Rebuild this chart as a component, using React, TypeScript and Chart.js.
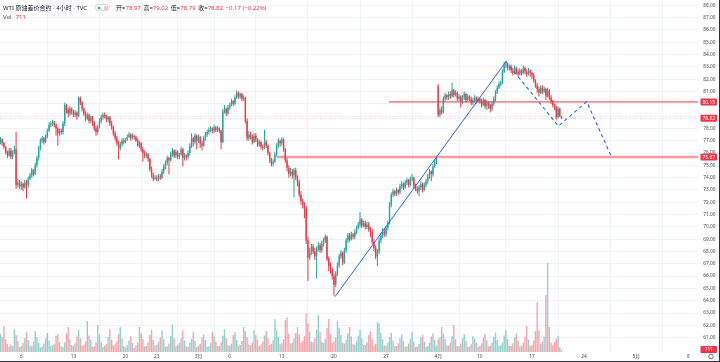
import React, { useEffect, useRef } from "react";
import { Chart, registerables } from "chart.js";
Chart.register(...registerables);

// ---- data: 4h bars, 6 per trading day, 2 Feb 2023 .. 19 Apr 2023 ----
const opens = [
  76.9, 77.1, 76.8, 76.5, 76.1, 75.8,
  76.2, 75.7, 76.0, 76.3, 73.4, 73.6,
  73.3, 73.5, 73.2, 73.6, 73.4, 73.9,
  74.2, 74.6, 74.3, 75.0, 75.6, 76.4,
  77.0, 77.2, 76.9, 77.3, 77.8, 78.3,
  78.4, 78.5, 78.3, 78.0, 77.6, 77.8,
  77.7, 78.4, 79.9, 79.5, 79.2, 79.6,
  79.4, 79.1, 79.3, 79.0, 80.5, 80.1,
  79.6, 79.2, 78.8, 79.1, 78.6, 78.9,
  78.5, 78.0, 77.7, 78.1, 78.6, 78.9,
  79.1, 79.0, 78.7, 78.9, 78.4, 78.1,
  77.6, 77.2, 76.8, 76.4, 76.7, 77.0,
  76.9, 77.1, 77.3, 77.5, 77.2, 77.4,
  77.3, 77.0, 76.6, 76.8, 76.3, 76.0,
  75.8, 75.9, 75.5, 74.7, 74.2, 73.9,
  74.0, 73.9, 74.1, 74.0, 74.5, 74.9,
  75.2, 75.6, 75.4, 75.9, 76.2, 75.8,
  76.1, 75.7, 75.9, 76.3, 75.6, 75.8,
  75.7, 76.0, 76.6, 77.2, 76.9, 77.4,
  77.0, 77.3, 76.8, 76.6, 77.2, 77.5,
  77.7, 77.9, 78.0, 77.8, 78.1, 77.9,
  78.0, 77.8, 76.9, 79.4, 79.6, 79.2,
  79.7, 79.9, 80.2, 80.0, 80.5, 80.9,
  80.6, 80.8, 80.4, 80.5, 78.6, 77.2,
  77.5, 77.3, 76.9, 77.4, 77.1, 76.7,
  76.9, 76.5, 76.4, 76.9, 76.6, 76.0,
  75.5, 75.1, 75.3, 75.9, 76.6, 77.0,
  76.8, 77.1, 76.3, 75.4, 74.8, 74.3,
  74.5, 74.2, 74.6, 74.0, 73.6, 72.6,
  72.1, 71.8, 71.5, 68.9, 67.5, 67.9,
  68.4, 68.0, 67.6, 68.2, 68.5, 68.1,
  68.6, 68.9, 69.2, 67.4, 66.8, 66.5,
  66.0, 65.3, 66.2, 66.9, 67.6, 67.9,
  67.1, 68.1, 68.9, 69.3, 69.0, 69.4,
  69.2, 69.6, 69.9, 70.2, 70.6, 70.1,
  70.3, 70.0, 70.2, 69.8, 69.6, 68.8,
  68.3, 67.6, 68.0, 68.9, 69.3, 69.6,
  69.4, 69.9, 70.3, 71.8, 72.6, 72.9,
  72.7, 73.0, 72.8, 73.3, 73.5, 73.2,
  73.6, 73.8, 73.4, 73.9, 74.0, 73.3,
  73.1, 72.9, 73.2, 73.5, 73.0, 73.4,
  73.7, 74.1, 74.5, 74.3, 74.9, 75.3,
  81.4, 79.1, 79.5, 79.3, 80.4, 80.7,
  80.5, 80.8, 80.6, 81.1, 80.7, 80.9,
  80.4, 80.6, 80.2, 80.5, 80.8, 80.3,
  80.6, 80.4, 80.1, 80.3, 80.5, 80.2,
  80.4, 80.2, 79.9, 80.3, 79.8, 80.1,
  79.9, 79.6, 80.0, 80.4, 80.9, 81.3,
  81.6, 81.7, 82.6, 83.1, 83.2, 82.9,
  83.0, 82.7, 82.5, 82.9, 82.6, 82.4,
  82.7, 82.5, 82.9, 82.6, 82.4, 82.7,
  82.5, 82.3, 81.9, 81.5, 81.2, 80.9,
  81.3, 81.0, 81.2, 80.6, 81.1, 80.5,
  80.2, 79.9, 79.7, 78.9, 79.6, 78.97,
];

const highs = [
  77.3, 77.2, 76.9, 76.6, 76.2, 76.4,
  76.4, 76.2, 76.6, 77.7, 73.9, 73.8,
  73.7, 73.6, 73.8, 73.8, 74.1, 74.4,
  74.8, 74.7, 75.2, 75.8, 76.6, 77.2,
  77.4, 77.3, 77.5, 78.0, 78.5, 78.6,
  78.7, 78.6, 78.4, 78.1, 78.0, 78.0,
  78.6, 80.1, 80.0, 79.7, 79.8, 79.7,
  79.5, 79.5, 79.4, 80.6, 80.6, 80.2,
  79.7, 79.4, 79.3, 79.2, 79.0, 79.0,
  78.6, 78.2, 78.3, 78.8, 79.1, 79.3,
  79.3, 79.1, 79.0, 79.0, 78.6, 78.2,
  77.8, 77.4, 77.0, 76.9, 77.2, 77.2,
  77.2, 77.5, 77.7, 77.6, 77.6, 77.5,
  77.4, 77.2, 77.0, 76.9, 76.5, 76.2,
  76.1, 76.0, 75.6, 74.9, 74.4, 74.2,
  74.2, 74.3, 74.3, 74.7, 75.1, 75.4,
  75.8, 75.7, 76.1, 76.4, 76.3, 76.3,
  76.2, 76.0, 76.5, 76.4, 76.0, 75.9,
  76.2, 76.8, 77.6, 77.3, 77.6, 77.5,
  77.5, 77.4, 77.0, 77.4, 77.7, 77.9,
  78.1, 78.2, 78.1, 78.3, 78.2, 78.2,
  78.1, 77.9, 79.6, 79.9, 79.7, 79.9,
  80.1, 80.4, 80.3, 80.7, 81.1, 81.0,
  80.9, 80.9, 80.7, 80.6, 78.8, 77.8,
  77.7, 77.5, 77.6, 77.6, 77.2, 77.1,
  77.0, 76.7, 77.9, 77.1, 76.7, 76.1,
  75.6, 75.5, 76.1, 76.8, 77.2, 77.1,
  77.3, 77.2, 76.4, 75.6, 75.0, 74.8,
  74.7, 74.8, 74.8, 74.2, 73.8, 72.9,
  72.3, 72.0, 71.7, 69.2, 68.3, 68.6,
  68.6, 68.3, 68.4, 68.8, 68.7, 68.9,
  69.1, 69.4, 69.3, 67.6, 67.1, 66.7,
  66.2, 66.4, 67.1, 67.8, 68.1, 68.0,
  68.3, 69.1, 69.5, 69.5, 69.6, 69.5,
  69.8, 70.1, 70.4, 71.2, 70.7, 70.5,
  70.5, 70.4, 70.4, 70.0, 69.8, 69.0,
  68.5, 68.2, 69.1, 69.5, 69.9, 69.8,
  70.1, 70.5, 72.0, 72.8, 73.1, 73.0,
  73.2, 73.1, 73.5, 73.7, 73.6, 73.8,
  74.0, 73.9, 74.1, 74.3, 74.1, 73.5,
  73.3, 73.4, 73.7, 73.6, 73.6, 73.9,
  74.3, 74.7, 74.6, 75.1, 75.5, 75.8,
  81.6, 79.7, 79.8, 80.6, 80.9, 80.8,
  81.0, 81.0, 81.7, 81.2, 81.1, 81.0,
  80.8, 80.7, 80.7, 81.0, 80.9, 80.8,
  80.7, 80.6, 80.5, 80.7, 80.6, 80.6,
  80.5, 80.4, 80.5, 80.4, 80.3, 80.2,
  80.0, 80.2, 80.6, 81.1, 81.5, 81.8,
  81.9, 82.8, 83.4, 83.5, 83.3, 83.2,
  83.2, 82.9, 83.1, 83.0, 82.8, 82.9,
  82.8, 83.1, 83.0, 82.8, 82.9, 82.8,
  82.6, 82.5, 82.0, 81.7, 81.4, 81.5,
  81.5, 81.4, 81.3, 81.3, 81.2, 80.7,
  80.3, 80.0, 79.8, 79.8, 79.7, 79.02,
];

const lows = [
  76.7, 76.6, 76.3, 75.9, 75.6, 75.7,
  75.5, 75.5, 75.9, 73.1, 73.2, 73.1,
  73.0, 72.9, 73.1, 72.3, 73.2, 73.8,
  74.0, 74.1, 74.2, 74.8, 75.4, 76.2,
  76.8, 76.7, 76.8, 77.2, 77.7, 78.1,
  78.2, 78.1, 77.4, 76.6, 77.4, 77.5,
  77.5, 78.2, 79.2, 78.9, 79.0, 79.1,
  78.9, 78.9, 78.7, 78.9, 79.9, 79.4,
  79.0, 78.6, 78.7, 78.4, 78.4, 78.2,
  77.8, 77.4, 77.5, 78.0, 78.4, 78.7,
  78.8, 78.5, 78.5, 78.2, 77.9, 77.4,
  77.0, 76.6, 75.5, 76.2, 76.5, 76.7,
  76.8, 77.0, 77.2, 77.0, 77.1, 77.1,
  76.9, 76.5, 76.4, 76.1, 75.3, 75.6,
  75.6, 75.3, 74.5, 74.0, 73.7, 73.8,
  73.7, 73.7, 73.8, 73.9, 74.3, 74.7,
  75.0, 74.3, 75.3, 75.7, 75.6, 75.6,
  75.5, 75.5, 75.8, 74.9, 75.4, 75.4,
  75.5, 75.8, 76.4, 76.5, 76.7, 76.3,
  76.8, 76.4, 76.2, 76.5, 77.0, 77.3,
  77.5, 77.7, 77.6, 77.6, 77.7, 77.7,
  77.6, 76.3, 76.8, 79.2, 79.0, 79.1,
  79.5, 79.8, 79.8, 79.9, 80.4, 80.4,
  80.4, 80.2, 80.2, 78.4, 77.0, 77.0,
  77.1, 76.7, 76.8, 76.9, 76.5, 76.5,
  76.3, 76.2, 76.3, 76.4, 75.8, 75.2,
  74.9, 74.9, 75.2, 75.7, 76.4, 76.5,
  76.6, 76.1, 75.2, 74.5, 74.0, 74.1,
  73.9, 72.4, 73.8, 73.3, 72.4, 71.8,
  71.5, 70.7, 68.6, 65.6, 67.3, 67.7,
  67.8, 67.3, 65.8, 68.0, 67.9, 67.9,
  68.4, 68.7, 67.2, 66.4, 66.2, 65.7,
  64.4, 65.1, 66.0, 66.7, 67.4, 66.9,
  67.0, 67.9, 68.7, 68.8, 68.9, 69.0,
  69.0, 69.4, 69.8, 70.0, 69.9, 70.0,
  69.8, 69.8, 69.6, 69.2, 68.6, 68.0,
  67.4, 66.8, 67.8, 68.7, 69.1, 69.2,
  69.2, 69.7, 70.2, 71.6, 72.4, 72.5,
  72.5, 72.6, 72.7, 73.1, 73.0, 73.1,
  73.4, 73.2, 73.3, 73.7, 73.1, 72.9,
  72.7, 72.5, 73.0, 72.8, 72.9, 73.2,
  73.5, 73.9, 73.7, 74.1, 74.8, 75.1,
  78.9, 78.9, 79.1, 79.2, 80.2, 80.3,
  80.3, 80.4, 80.5, 80.5, 80.6, 80.2,
  80.2, 79.7, 80.0, 80.3, 80.1, 80.2,
  80.2, 79.9, 79.9, 80.1, 80.0, 80.1,
  80.0, 79.7, 79.8, 79.6, 79.5, 79.6,
  79.3, 79.4, 79.8, 80.2, 80.8, 81.2,
  81.4, 81.6, 82.5, 82.9, 82.7, 82.7,
  82.5, 82.3, 82.4, 82.4, 82.2, 82.3,
  82.3, 82.4, 82.4, 82.2, 82.3, 82.2,
  82.0, 81.7, 81.3, 80.9, 80.6, 80.8,
  80.8, 80.9, 80.3, 80.5, 80.3, 80.0,
  79.7, 79.5, 78.7, 78.8, 78.9, 78.79,
];

const closes = [
  77.1, 76.8, 76.5, 76.1, 75.8, 76.2,
  75.7, 76.0, 76.3, 73.4, 73.6, 73.3,
  73.5, 73.2, 73.6, 73.4, 73.9, 74.2,
  74.6, 74.3, 75.0, 75.6, 76.4, 77.0,
  77.2, 76.9, 77.3, 77.8, 78.3, 78.4,
  78.5, 78.3, 78.0, 77.6, 77.8, 77.7,
  78.4, 79.9, 79.5, 79.2, 79.6, 79.4,
  79.1, 79.3, 79.0, 80.5, 80.1, 79.6,
  79.2, 78.8, 79.1, 78.6, 78.9, 78.5,
  78.0, 77.7, 78.1, 78.6, 78.9, 79.1,
  79.0, 78.7, 78.9, 78.4, 78.1, 77.6,
  77.2, 76.8, 76.4, 76.7, 77.0, 76.9,
  77.1, 77.3, 77.5, 77.2, 77.4, 77.3,
  77.0, 76.6, 76.8, 76.3, 76.0, 75.8,
  75.9, 75.5, 74.7, 74.2, 73.9, 74.0,
  73.9, 74.1, 74.0, 74.5, 74.9, 75.2,
  75.6, 75.4, 75.9, 76.2, 75.8, 76.1,
  75.7, 75.9, 76.3, 75.6, 75.8, 75.7,
  76.0, 76.6, 77.2, 76.9, 77.4, 77.0,
  77.3, 76.8, 76.6, 77.2, 77.5, 77.7,
  77.9, 78.0, 77.8, 78.1, 77.9, 78.0,
  77.8, 76.9, 79.4, 79.6, 79.2, 79.7,
  79.9, 80.2, 80.0, 80.5, 80.9, 80.6,
  80.8, 80.4, 80.5, 78.6, 77.2, 77.5,
  77.3, 76.9, 77.4, 77.1, 76.7, 76.9,
  76.5, 76.4, 76.9, 76.6, 76.0, 75.5,
  75.1, 75.3, 75.9, 76.6, 77.0, 76.8,
  77.1, 76.3, 75.4, 74.8, 74.3, 74.5,
  74.2, 74.6, 74.0, 73.6, 72.6, 72.1,
  71.8, 71.5, 68.9, 67.5, 67.9, 68.4,
  68.0, 67.6, 68.2, 68.5, 68.1, 68.6,
  68.9, 69.2, 67.4, 66.8, 66.5, 66.0,
  65.3, 66.2, 66.9, 67.6, 67.9, 67.1,
  68.1, 68.9, 69.3, 69.0, 69.4, 69.2,
  69.6, 69.9, 70.2, 70.6, 70.1, 70.3,
  70.0, 70.2, 69.8, 69.6, 68.8, 68.3,
  67.6, 68.0, 68.9, 69.3, 69.6, 69.4,
  69.9, 70.3, 71.8, 72.6, 72.9, 72.7,
  73.0, 72.8, 73.3, 73.5, 73.2, 73.6,
  73.8, 73.4, 73.9, 74.0, 73.3, 73.1,
  72.9, 73.2, 73.5, 73.0, 73.4, 73.7,
  74.1, 74.5, 74.3, 74.9, 75.3, 75.6,
  79.1, 79.5, 79.3, 80.4, 80.7, 80.5,
  80.8, 80.6, 81.1, 80.7, 80.9, 80.4,
  80.6, 80.2, 80.5, 80.8, 80.3, 80.6,
  80.4, 80.1, 80.3, 80.5, 80.2, 80.4,
  80.2, 79.9, 80.3, 79.8, 80.1, 79.9,
  79.6, 80.0, 80.4, 80.9, 81.3, 81.6,
  81.7, 82.6, 83.1, 83.2, 82.9, 83.0,
  82.7, 82.5, 82.9, 82.6, 82.4, 82.7,
  82.5, 82.9, 82.6, 82.4, 82.7, 82.5,
  82.3, 81.9, 81.5, 81.2, 80.9, 81.3,
  81.0, 81.2, 80.6, 81.1, 80.5, 80.2,
  79.9, 79.7, 78.9, 79.6, 78.99, 78.82,
];

const volumes = [
  5200, 4100, 7400, 3600, 2300, 1500,
  2100, 1700, 6500, 4800, 3100, 1400,
  1800, 2600, 3900, 5600, 3400, 1900,
  1600, 2900, 6000, 4200, 2700, 1300,
  1500, 2400, 3800, 5400, 3300, 1700,
  1900, 2200, 4600, 5100, 2800, 1600,
  1400, 2800, 5300, 7100, 3600, 2000,
  1700, 2500, 4400, 6300, 3900, 1800,
  2000, 3100, 8800, 4700, 3400, 1500,
  1600, 2700, 7700, 5000, 2900, 1400,
  1800, 2300, 4300, 6500, 3500, 1900,
  2200, 3000, 5200, 7100, 3800, 1700,
  1300, 1900, 3300, 4500, 2600, 1200,
  1900, 2600, 7100, 5300, 3700, 1600,
  1700, 2800, 4900, 6200, 3400, 1800,
  2000, 2900, 4100, 6200, 3600, 1500,
  1600, 2400, 4500, 7700, 3900, 1700,
  1900, 2600, 4000, 6200, 3300, 1600,
  1500, 2700, 3700, 5700, 3100, 1400,
  1800, 2300, 4200, 5000, 3400, 1500,
  1600, 2500, 5700, 4400, 2900, 1700,
  1700, 2800, 4600, 6500, 3800, 1900,
  1800, 2400, 4800, 5600, 3500, 1600,
  2000, 3100, 7100, 5900, 4200, 2100,
  1900, 2700, 6200, 4800, 3500, 1700,
  2100, 2900, 4700, 6000, 3900, 2000,
  2300, 3400, 9400, 6100, 4300, 2200,
  2500, 3600, 9100, 9900, 5200, 2400,
  2600, 3800, 5400, 7100, 5000, 2700,
  3100, 4500, 11100, 8200, 5800, 3000,
  2800, 3900, 6400, 10500, 5600, 2900,
  2600, 3700, 6800, 9400, 5100, 2500,
  3000, 4200, 8800, 6900, 4800, 2600,
  2400, 3500, 5300, 7100, 4400, 2200,
  2100, 3000, 4600, 6300, 3900, 1900,
  2000, 2800, 4800, 5900, 3700, 1800,
  2300, 8500, 8200, 5400, 3600, 1900,
  1800, 2600, 4200, 5400, 3300, 1600,
  1700, 2500, 3900, 5000, 3100, 1500,
  1600, 2400, 3800, 5700, 3000, 1400,
  1500, 2300, 4100, 4900, 2900, 1500,
  1700, 2600, 4400, 5300, 3400, 1800,
  3600, 4100, 7100, 5200, 3800, 1900,
  1800, 2700, 4500, 7700, 3600, 1700,
  1600, 2400, 3900, 5100, 3200, 1500,
  1500, 2200, 4500, 3800, 2700, 1400,
  1700, 2500, 4000, 5200, 3300, 1600,
  1800, 2600, 4300, 5500, 3500, 1700,
  1900, 2800, 4700, 6200, 3700, 1800,
  1700, 2500, 4200, 5300, 3300, 1600,
  1800, 2600, 4400, 7400, 3500, 1700,
  2000, 3300, 5900, 14200, 6100, 2400,
  2900, 4300, 16200, 25300, 7100, 2600,
  1900, 2800, 3700, 4500, 1400, 711,
];

// time-axis ticks (bar index of the first bar of that day) and their labels
const tickBars = [12, 42, 72, 90, 114, 132, 162, 192, 222, 252, 276, 306, 336, 366, 396];
const tickLabels = ["6", "13", "20", "23", "3月", "6", "13", "20", "27", "4月", "10", "17", "24", "5月", "8"];
const priceTicks = [61, 62, 63, 64, 65, 66, 67, 68, 69, 70, 71, 72, 73, 74, 75, 76, 77, 78, 79, 80, 81, 82, 83, 84, 85, 86, 87, 88];

// drawings (bar index, price)
const trendBars = [192.6, 291.0];
const trendPrices = [64.33, 83.42];
const projBars = [291.0, 321.2, 337.5, 351.9];
const projPrices = [83.42, 78.19, 80.17, 75.65];
const levelPrices = [80.15, 75.67];
const levelFromBars = [223.7, 159.2];
const priceTags = [80.15, 78.82, 75.67];

const title = "WTI 原油差价合约 · 4小时 · TVC";
const ohlcNames = ["开", "高", "低", "收"];

const X_MIN = -0.265;
const X_MAX = 401.58;
const Y_MIN = 59.836;
const Y_MAX = 88.43;
const VOL_MAX = 100000;

const UP = "#26a69a";
const DOWN = "#f23645";
const UP_VOL = "rgba(38,166,154,0.5)";
const DOWN_VOL = "rgba(242,54,69,0.45)";
const GRID = "#f0f3fa";
const FONT = '"Noto Sans", "Noto Sans CJK SC", sans-serif';

const overlayPlugin = {
  id: "tvOverlay",
  afterDraw(chart: any) {
    const ctx = chart.ctx as CanvasRenderingContext2D;
    const y = chart.scales.y;
    const yv = chart.scales.yVol;
    const last = closes.length - 1;
    ctx.save();
    ctx.font = `4.8px ${FONT}`;
    ctx.textAlign = "center";
    ctx.textBaseline = "middle";
    const tag = (py: number, text: string) => {
      ctx.fillStyle = DOWN;
      ctx.beginPath();
      (ctx as any).roundRect(700.5, py - 3.5, 16.5, 7, 1);
      ctx.fill();
      ctx.fillStyle = "#ffffff";
      ctx.fillText(text, 708.75, py + 0.3);
    };
    priceTags.forEach((p) => tag(y.getPixelForValue(p), p.toFixed(2)));
    tag(yv.getPixelForValue(volumes[last]), String(volumes[last]));
    // settings glyph
    ctx.strokeStyle = "#50535e";
    ctx.lineWidth = 0.8;
    ctx.beginPath();
    ctx.arc(711, 356.5, 2.3, 0, Math.PI * 2);
    ctx.stroke();
    // frame
    ctx.strokeStyle = "#2a2e39";
    ctx.lineWidth = 1;
    ctx.beginPath();
    ctx.moveTo(0, 361.5);
    ctx.lineTo(720, 361.5);
    ctx.moveTo(719.5, 0);
    ctx.lineTo(719.5, 362);
    ctx.stroke();
    ctx.restore();
  },
};

export default function App() {
  const ref = useRef<HTMLCanvasElement>(null);

  useEffect(() => {
    const idx = closes.map((_, i) => i);
    const up = idx.map((i) => closes[i] >= opens[i]);
    const candleColors = up.map((u) => (u ? UP : DOWN));
    const volColors = up.map((u) => (u ? UP_VOL : DOWN_VOL));
    const lastPrice = closes[closes.length - 1];

    const lineBase = { type: "line" as const, yAxisID: "y", pointRadius: 0, tension: 0, fill: false };

    const chart = new Chart(ref.current as HTMLCanvasElement, {
      type: "bar",
      data: {
        datasets: [
          {
            ...lineBase,
            data: trendBars.map((x, i) => ({ x, y: trendPrices[i] })),
            borderColor: "#2962ff",
            borderWidth: 1,
            order: 1,
          } as any,
          {
            ...lineBase,
            data: projBars.map((x, i) => ({ x, y: projPrices[i] })),
            borderColor: "#2962ff",
            borderWidth: 1.1,
            borderDash: [3.5, 3],
            order: 1,
          } as any,
          {
            ...lineBase,
            data: [
              { x: levelFromBars[0], y: levelPrices[0] },
              { x: X_MAX, y: levelPrices[0] },
            ],
            borderColor: DOWN,
            borderWidth: 1,
            order: 2,
          } as any,
          {
            ...lineBase,
            data: [
              { x: levelFromBars[1], y: levelPrices[1] },
              { x: X_MAX, y: levelPrices[1] },
            ],
            borderColor: "rgba(242,54,69,0.5)",
            borderWidth: 2.5,
            order: 2,
          } as any,
          {
            ...lineBase,
            data: [
              { x: X_MIN, y: lastPrice },
              { x: X_MAX, y: lastPrice },
            ],
            borderColor: "rgba(242,54,69,0.3)",
            borderWidth: 1,
            borderDash: [1, 1.5],
            order: 3,
          } as any,
          {
            type: "bar",
            yAxisID: "y",
            data: idx.map((i) => ({ x: i, y: [opens[i], closes[i]] })),
            backgroundColor: candleColors,
            grouped: false,
            barPercentage: 0.8,
            categoryPercentage: 1,
            minBarLength: 0.8,
            inflateAmount: 0,
            order: 4,
          } as any,
          {
            type: "bar",
            yAxisID: "y",
            data: idx.map((i) => ({ x: i, y: [lows[i], highs[i]] })),
            backgroundColor: candleColors,
            grouped: false,
            barPercentage: 0.58,
            categoryPercentage: 1,
            inflateAmount: 0,
            order: 5,
          } as any,
          {
            type: "bar",
            yAxisID: "yVol",
            data: idx.map((i) => ({ x: i, y: volumes[i] })),
            backgroundColor: volColors,
            grouped: false,
            barPercentage: 0.8,
            categoryPercentage: 1,
            inflateAmount: 0,
            order: 10,
          } as any,
        ],
      },
      options: {
        responsive: false,
        animation: false,
        events: [],
        layout: { padding: 0 },
        plugins: { legend: { display: false }, tooltip: { enabled: false } },
        scales: {
          x: {
            type: "linear",
            min: X_MIN,
            max: X_MAX,
            offset: false,
            position: "bottom",
            grid: { color: GRID, drawTicks: false, lineWidth: 1 },
            border: { display: false },
            afterBuildTicks: (s: any) => {
              s.ticks = tickBars.map((v) => ({ value: v }));
            },
            afterFit: (s: any) => {
              s.height = 10;
              s.paddingLeft = 0;
              s.paddingRight = 0;
            },
            ticks: {
              autoSkip: false,
              maxRotation: 0,
              minRotation: 0,
              padding: 1.5,
              color: "#4a4d57",
              font: { size: 4.8, family: FONT },
              callback: (_v: any, i: number) => tickLabels[i],
            },
          },
          y: {
            type: "linear",
            position: "right",
            min: Y_MIN,
            max: Y_MAX,
            grid: { color: GRID, drawTicks: false, lineWidth: 1 },
            border: { display: false },
            afterBuildTicks: (s: any) => {
              s.ticks = priceTicks.map((v) => ({ value: v }));
            },
            afterFit: (s: any) => {
              s.width = 22;
              s.paddingTop = 0;
              s.paddingBottom = 0;
            },
            ticks: {
              padding: 5.3,
              color: "#4a4d57",
              font: { size: 4.8, family: FONT },
              callback: (v: any) =>
                priceTags.some((p) => Math.abs(p - Number(v)) < 0.25) ? "" : Number(v).toFixed(2),
            },
          },
          yVol: {
            type: "linear",
            display: false,
            min: 0,
            max: VOL_MAX,
          },
        },
      } as any,
      plugins: [overlayPlugin],
    });
    return () => chart.destroy();
  }, []);

  const last = closes.length - 1;
  const ohlcValues = [opens[last], highs[last], lows[last], closes[last]].map((v) => v.toFixed(2));
  const chg = closes[last] - closes[last - 1];
  const chgPct = (chg / closes[last - 1]) * 100;
  const fmt = (v: number) => (v < 0 ? "−" : "+") + Math.abs(v).toFixed(2);

  const textStyle: React.CSSProperties = {
    position: "absolute",
    font: `6px ${FONT}`,
    lineHeight: "7px",
    whiteSpace: "nowrap",
    color: "#131722",
  };

  return (
    <div style={{ position: "fixed", left: 0, top: 0, width: 720, height: 362, background: "#ffffff", overflow: "hidden" }}>
      <canvas ref={ref} width={720} height={362} style={{ display: "block", width: 720, height: 362 }} />
      <div style={{ ...textStyle, left: 3, top: 4.5 }}>{title}</div>
      <div
        style={{
          position: "absolute",
          left: 95,
          top: 4.3,
          width: 15,
          height: 7,
          borderRadius: 3.5,
          border: "0.6px solid #d6d9e0",
          boxSizing: "border-box",
          background: "#ffffff",
        }}
      >
        <div style={{ position: "absolute", left: 0.8, top: 0.4, width: 5, height: 5, borderRadius: 2.5, background: "#d3efe9" }}>
          <div style={{ position: "absolute", left: 1.5, top: 1.5, width: 2, height: 2, borderRadius: 1, background: "#089981" }} />
        </div>
        <div style={{ position: "absolute", right: 1.2, top: 0.9, width: 4.2, height: 4.2, borderRadius: 1, background: "#f7c3c9" }} />
      </div>
      <div style={{ ...textStyle, left: 116, top: 4.5 }}>
        {ohlcNames.map((n, i) => (
          <span key={n} style={{ marginRight: 2.6 }}>
            <span>{n}=</span>
            <span style={{ color: DOWN }}>{ohlcValues[i]}</span>
          </span>
        ))}
        <span style={{ color: DOWN }}>
          {fmt(chg)} ({fmt(chgPct)}%)
        </span>
      </div>
      <div style={{ ...textStyle, left: 3, top: 14, color: "#50535e" }}>
        Vol<span style={{ color: DOWN, marginLeft: 4 }}>{volumes[last]}</span>
      </div>
    </div>
  );
}
